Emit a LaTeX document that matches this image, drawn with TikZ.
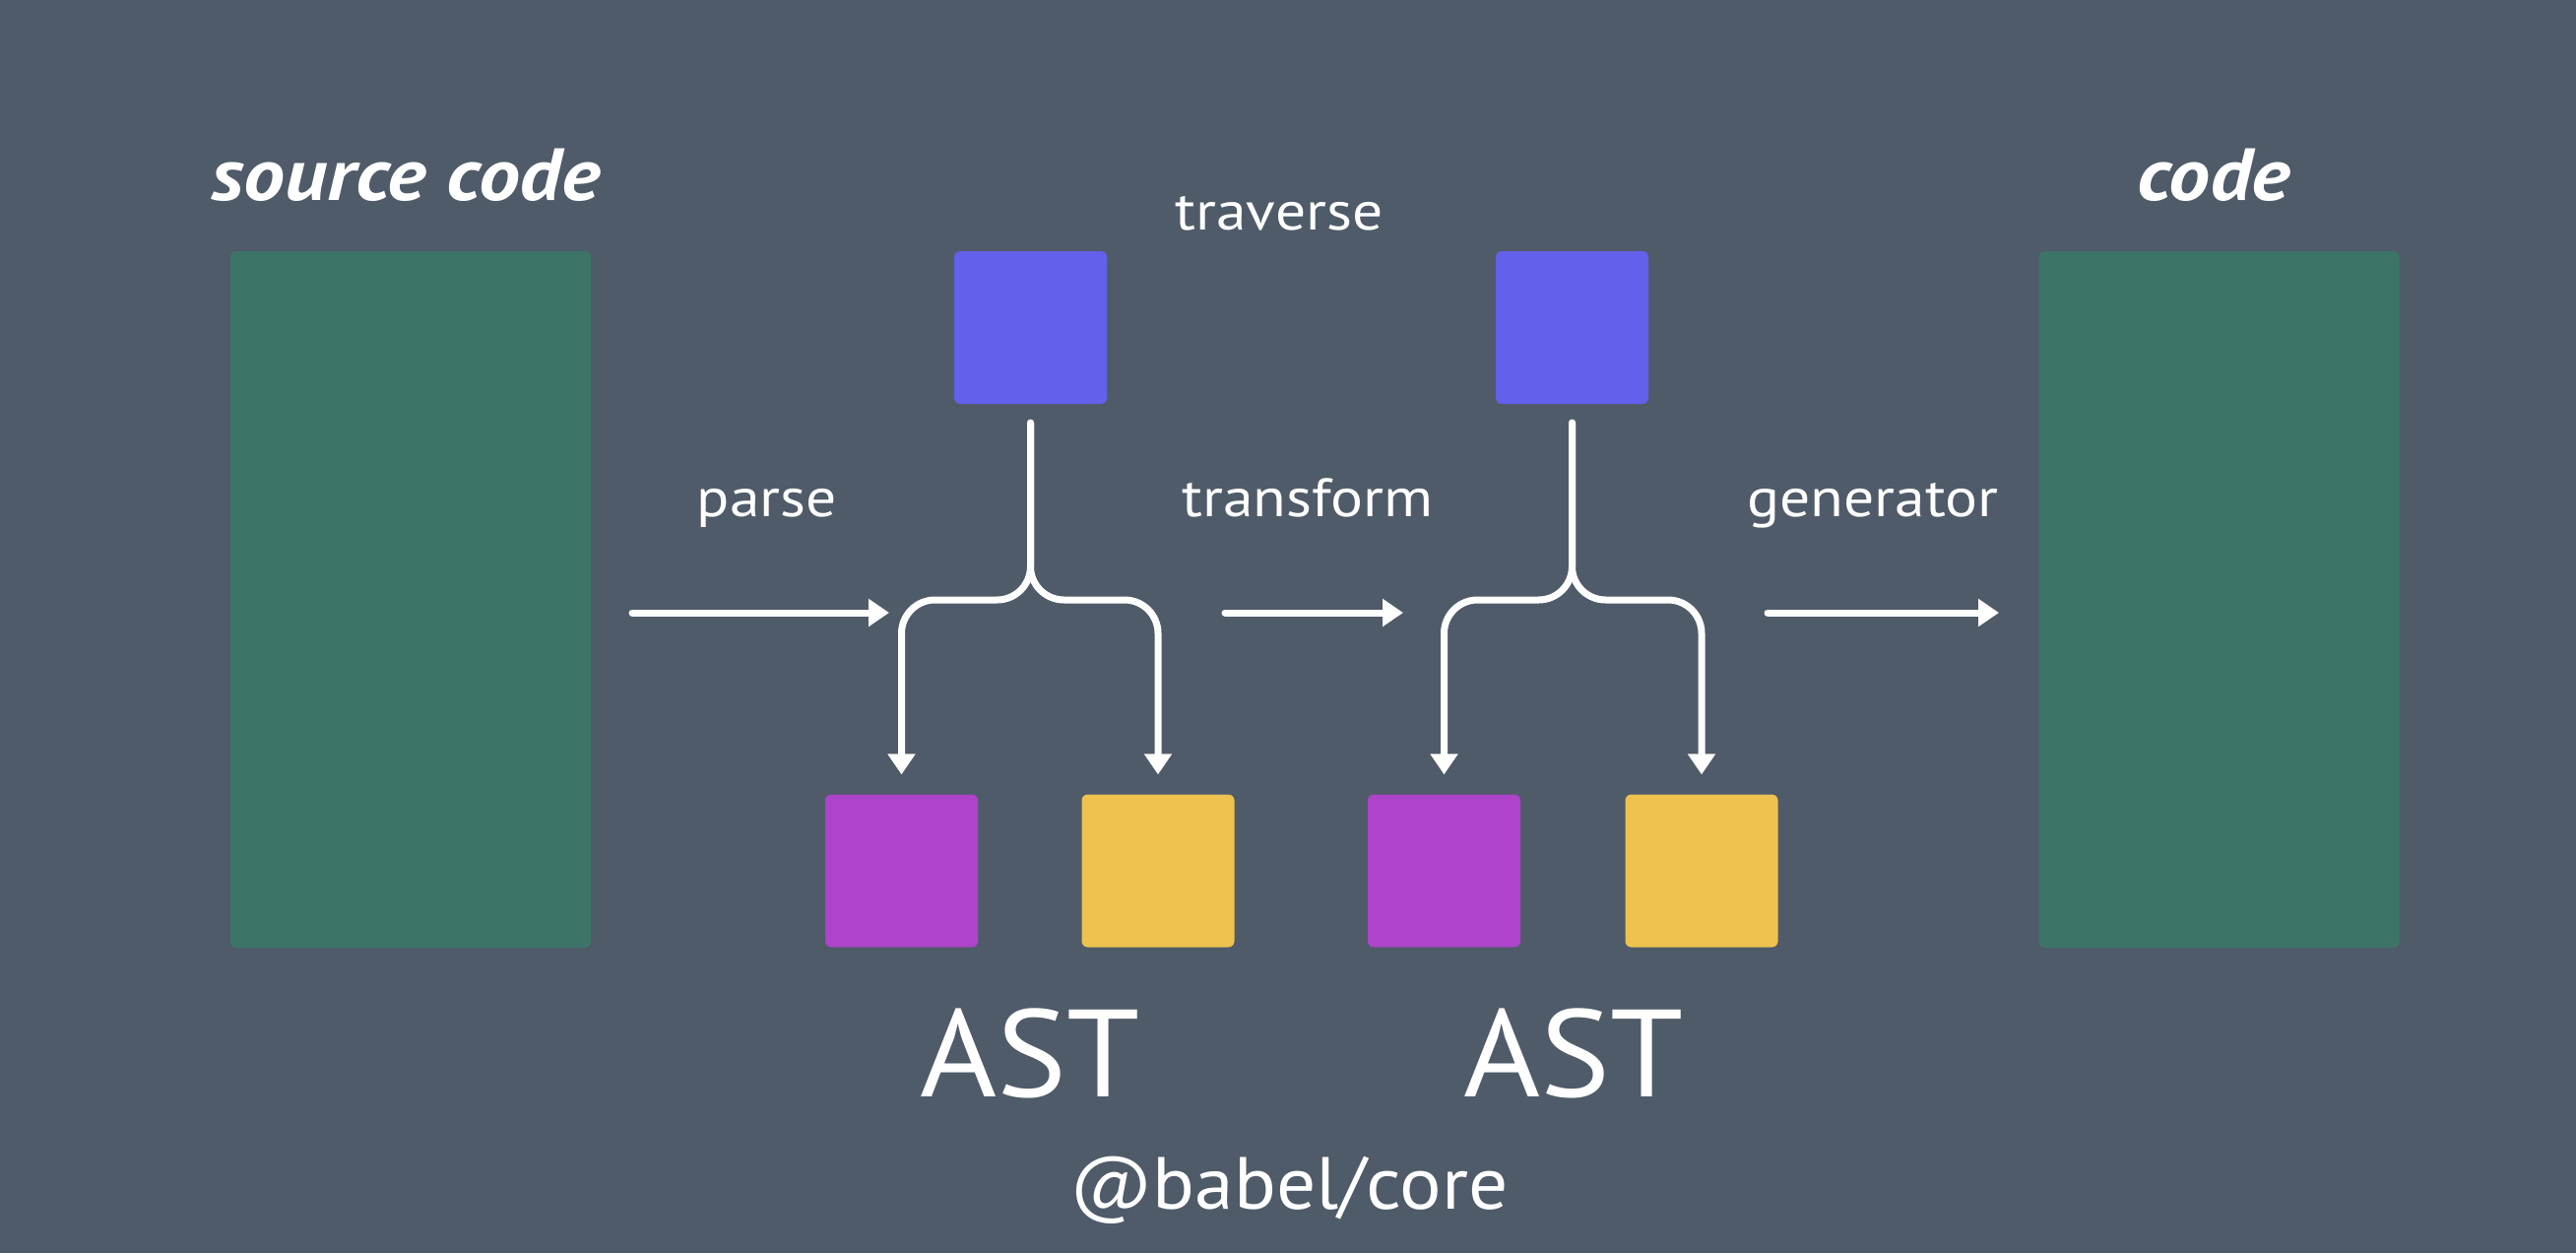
\documentclass[tikz,border=0pt]{standalone}
\usepackage{fontspec}
\setmainfont{PT Sans}
\newfontfamily\widefont[FakeStretch=1.12]{PT Sans}
\newfontfamily\midfont[FakeStretch=1.06]{PT Sans}
\usetikzlibrary{arrows.meta}
\definecolor{bg}{HTML}{4F5B69}
\definecolor{boxgreen}{HTML}{3C7568}
\definecolor{boxblue}{HTML}{6360EB}
\definecolor{boxpurple}{HTML}{AD44C9}
\definecolor{boxyellow}{HTML}{EEC24E}
\tikzset{
  sq/.style={rectangle, rounded corners=6pt, inner sep=0pt, minimum width=155pt, minimum height=155pt},
  tall/.style={rectangle, rounded corners=6pt, inner sep=0pt, minimum width=366pt, minimum height=707pt, fill=boxgreen},
  lbl/.style={text=white, inner sep=0pt, anchor=base, font=\widefont\fontsize{55}{66}\selectfont},
  title/.style={text=white, inner sep=0pt, anchor=base, font=\widefont\fontsize{75}{90}\selectfont\bfseries\itshape},
  big/.style={text=white, inner sep=0pt, anchor=base, font=\midfont\fontsize{126}{140}\selectfont},
  arr/.style={draw=white, line width=7pt, line cap=round, -{Triangle[width=27pt,length=21pt]}},
  fork/.style={draw=white, line width=7pt, line cap=round, rounded corners=34pt, -{Triangle[width=27pt,length=21pt]}},
}
\begin{document}
\begin{tikzpicture}[x=1pt,y=-1pt]
\fill[bg] (0,0) rectangle (2616,1272);
\useasboundingbox (0,0) rectangle (2616,1272);
% boxes
\node[tall] (src) at (417,608.5) {};
\node[tall] (out) at (2253.5,608.5) {};
\node[sq, fill=boxblue] (b1) at (1046.5,332.5) {};
\node[sq, fill=boxblue] (b2) at (1596.5,332.5) {};
\node[sq, fill=boxpurple] (p1) at (915.5,884) {};
\node[sq, fill=boxyellow] (y1) at (1176,884) {};
\node[sq, fill=boxpurple] (p2) at (1466.5,884) {};
\node[sq, fill=boxyellow] (y2) at (1728,884) {};
% labels
\node[title] (tsrc) at (412,203) {source code};
\node[title] (tout) at (2248,203) {code};
\node[lbl] (ltrav) at (1299,233) {traverse};
\node[lbl] (lparse) at (779,524) {parse};
\node[lbl] (ltrans) at (1328,524) {transform};
\node[lbl] (lgen) at (1902,524) {generator};
\node[big] (ast1) at (1046,1113) {AST};
\node[big] (ast2) at (1598,1113) {AST};
\node[text=white, inner sep=0pt, anchor=base, font=\midfont\fontsize{75}{90}\selectfont] (core) at (1309,1227) {@babel/core};
% arrow coordinates
\coordinate (a1s) at (642,622);
\coordinate (a1e) at (903,622);
\coordinate (a2s) at (1244,622);
\coordinate (a2e) at (1425,622);
\coordinate (a3s) at (1795,622);
\coordinate (a3e) at (2030,622);
\draw[arr] (a1s) -- (a1e);
\draw[arr] (a2s) -- (a2e);
\draw[arr] (a3s) -- (a3e);
% forks
\draw[fork] ([yshift=-19pt]b1.south) -- (b1.south |- 0,609) -| ([yshift=20pt]p1.north);
\draw[fork] ([yshift=-19pt]b1.south) -- (b1.south |- 0,609) -| ([yshift=20pt]y1.north);
\draw[fork] ([yshift=-19pt]b2.south) -- (b2.south |- 0,609) -| ([yshift=20pt]p2.north);
\draw[fork] ([yshift=-19pt]b2.south) -- (b2.south |- 0,609) -| ([yshift=20pt]y2.north);
\end{tikzpicture}
\end{document}
